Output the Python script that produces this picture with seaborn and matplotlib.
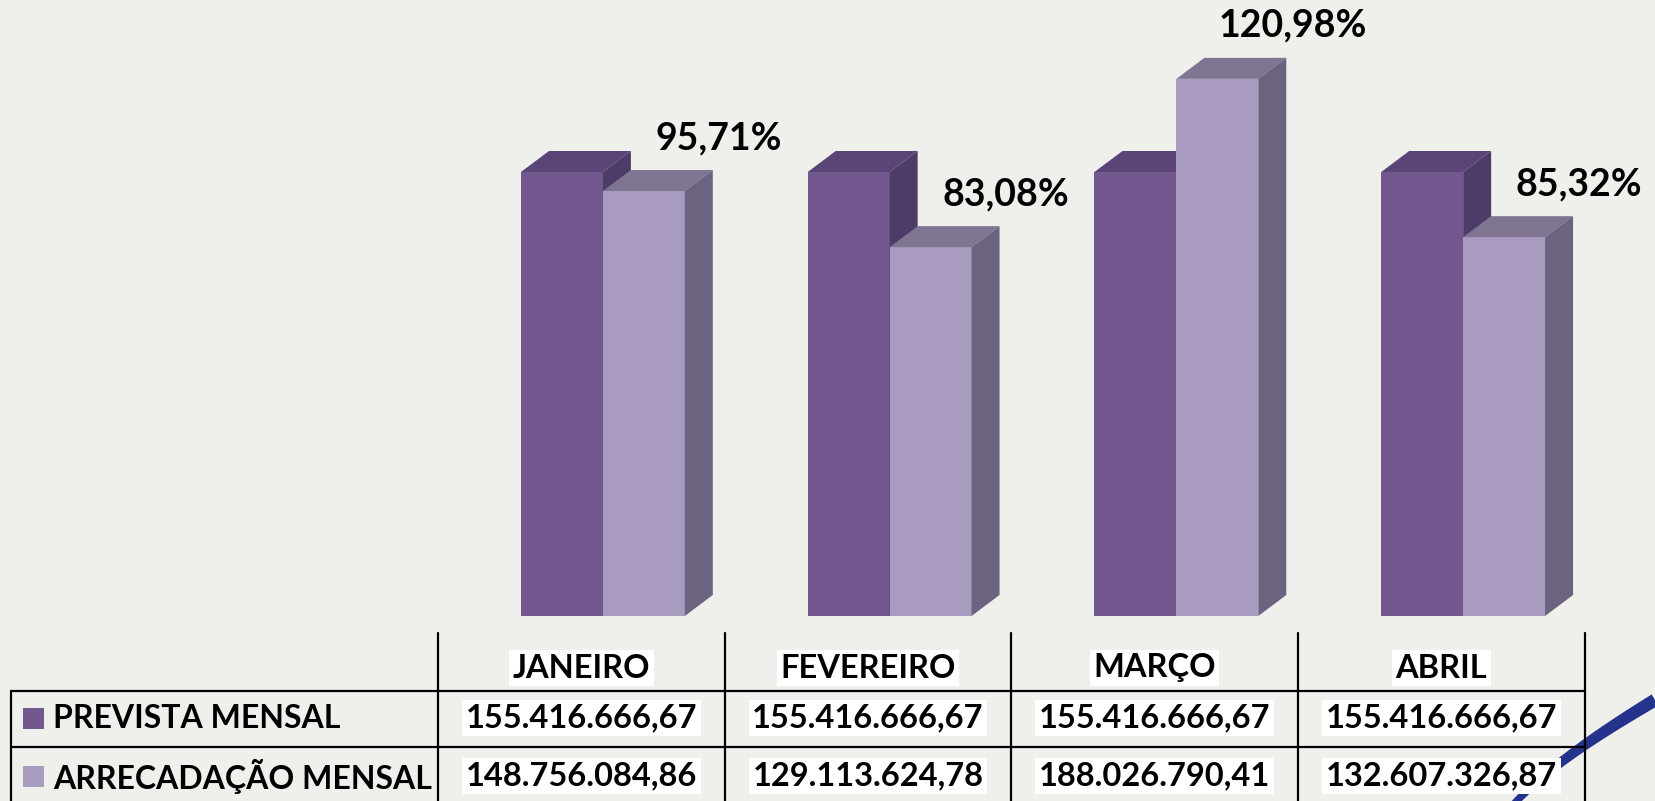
import numpy as np
import pandas as pd
import matplotlib
matplotlib.use("Agg")
import matplotlib.pyplot as plt
import seaborn as sns
from matplotlib.patches import Polygon, Rectangle
from matplotlib.lines import Line2D

# ---------------- data ----------------
meses = ["JANEIRO", "FEVEREIRO", "MARÇO", "ABRIL"]
series = ["PREVISTA MENSAL", "ARRECADAÇÃO MENSAL"]
prevista = [155416666.67, 155416666.67, 155416666.67, 155416666.67]
arrecadacao = [148756084.86, 129113624.78, 188026790.41, 132607326.87]
percentuais = [95.71, 83.08, 120.98, 85.32]

# ---------------- style ----------------
W, H = 1655, 801
BG = "#efefeb"
FRONT = ["#735890", "#a99ac0"]
TOP = ["#5a4478", "#807590"]
SIDE = ["#4e3c68", "#6c6380"]
FONT = ["Lato", "DejaVu Sans"]

sns.set_theme(style="white")
plt.rcParams["font.family"] = FONT
plt.rcParams["font.weight"] = "bold"

def br(v):
    s = f"{v:,.2f}"
    return s.replace(",", "X").replace(".", ",").replace("X", ".")

def fx(x):
    return x / W

def fy(y):
    return 1 - y / H

df = pd.DataFrame({
    "mes": meses * 2,
    "serie": [series[0]] * 4 + [series[1]] * 4,
    "valor": prevista + arrecadacao,
})

fig = plt.figure(figsize=(W / 100, H / 100), dpi=100)
fig.patch.set_facecolor(BG)

ax_left, ax_right, ax_bottom = 438, 1585, 616
ax = fig.add_axes([fx(ax_left), fy(ax_bottom), (ax_right - ax_left) / W, ax_bottom / H])
ax.set_facecolor("none")

ymax = ax_bottom * prevista[0] / 444.0
sns.barplot(data=df, x="mes", y="valor", hue="serie", palette=FRONT,
            width=0.5714, gap=0, saturation=1, legend=False, ax=ax,
            linewidth=0, err_kws={"linewidth": 0})
ax.set_xlim(-0.575, 3.425)
ax.set_ylim(0, ymax)
ax.axis("off")

# 3D depth in data units
px_per_x = (ax_right - ax_left) / 4.0
dx = 28 / px_per_x
dy = 21 * ymax / ax_bottom

bars = [p for p in ax.patches if isinstance(p, Rectangle)]
for i, p in enumerate(bars):
    k = 0 if i < 4 else 1
    x0, w, h = p.get_x(), p.get_width(), p.get_height()
    x1 = x0 + w
    p.set_zorder(2 + 2 * k)
    top = Polygon([(x0, h), (x1, h), (x1 + dx, h + dy), (x0 + dx, h + dy)],
                  closed=True, facecolor=TOP[k], edgecolor="none", zorder=2.5 + 2 * k)
    side = Polygon([(x1, 0), (x1 + dx, dy), (x1 + dx, h + dy), (x1, h)],
                   closed=True, facecolor=SIDE[k], edgecolor="none", zorder=2.5 + 2 * k)
    ax.add_patch(top)
    ax.add_patch(side)
    if k == 1:
        j = i - 4
        lab = f"{percentuais[j]:.2f}%".replace(".", ",")
        ax.annotate(lab, (x1 + dx, h + dy), xytext=(6, 32), textcoords="offset pixels",
                    ha="center", va="center", fontsize=27, fontweight="bold",
                    color="black", annotation_clip=False, zorder=10)

# ---------------- decorative swoosh (tapered stroke) ----------------
P = np.array([[1655, 700], [1595, 736], [1545, 770], [1512, 806]], dtype=float)
t = np.linspace(0, 1, 60)[:, None]
curve = ((1 - t) ** 3 * P[0] + 3 * (1 - t) ** 2 * t * P[1]
         + 3 * (1 - t) * t ** 2 * P[2] + t ** 3 * P[3])
deriv = (3 * (1 - t) ** 2 * (P[1] - P[0]) + 6 * (1 - t) * t * (P[2] - P[1])
         + 3 * t ** 2 * (P[3] - P[2]))
nrm = np.column_stack([-deriv[:, 1], deriv[:, 0]])
nrm /= np.linalg.norm(nrm, axis=1)[:, None]
half = (13 - 6 * t[:, 0]) / 2
left = curve + nrm * half[:, None]
right = curve - nrm * half[:, None]
poly = np.vstack([left, right[::-1]])
poly_fig = np.column_stack([poly[:, 0] / W, 1 - poly[:, 1] / H])
fig.add_artist(Polygon(poly_fig, closed=True, transform=fig.transFigure,
                       facecolor="#24338c", edgecolor="none", zorder=1))

# ---------------- table ----------------
cols_x = [438, 725, 1011, 1298, 1585]
line_kw = dict(color="black", linewidth=1.6, transform=fig.transFigure, zorder=2)
for x in cols_x:
    fig.add_artist(Line2D([fx(x), fx(x)], [fy(633), fy(801)], **line_kw))
fig.add_artist(Line2D([fx(11), fx(11)], [fy(691), fy(801)], **line_kw))
for y in [691, 747]:
    fig.add_artist(Line2D([fx(11), fx(1585)], [fy(y), fy(y)], **line_kw))

row_y = [718, 776]
header_y = 668
fs = 23.5
box = dict(facecolor="white", edgecolor="none", pad=2.5)
for c, mes in enumerate(meses):
    cx = (cols_x[c] + cols_x[c + 1]) / 2
    fig.text(fx(cx), fy(header_y), mes, ha="center", va="center", fontsize=fs,
             fontweight="bold", color="black", bbox=box, zorder=3)
    for r, vals in enumerate([prevista, arrecadacao]):
        fig.text(fx(cx), fy(row_y[r]), br(vals[c]), ha="center", va="center",
                 fontsize=fs, fontweight="bold", color="black", bbox=box, zorder=3)

for r, name in enumerate(series):
    fig.add_artist(Rectangle((fx(23), fy(row_y[r] + 10.5)), 21 / W, 21 / H,
                             transform=fig.transFigure, facecolor=FRONT[r],
                             edgecolor="none", zorder=3))
    fig.text(fx(53), fy(row_y[r]), name, ha="left", va="center", fontsize=23,
             fontweight="bold", color="black", zorder=3)

fig.savefig("out.png", dpi=100, facecolor=BG)
